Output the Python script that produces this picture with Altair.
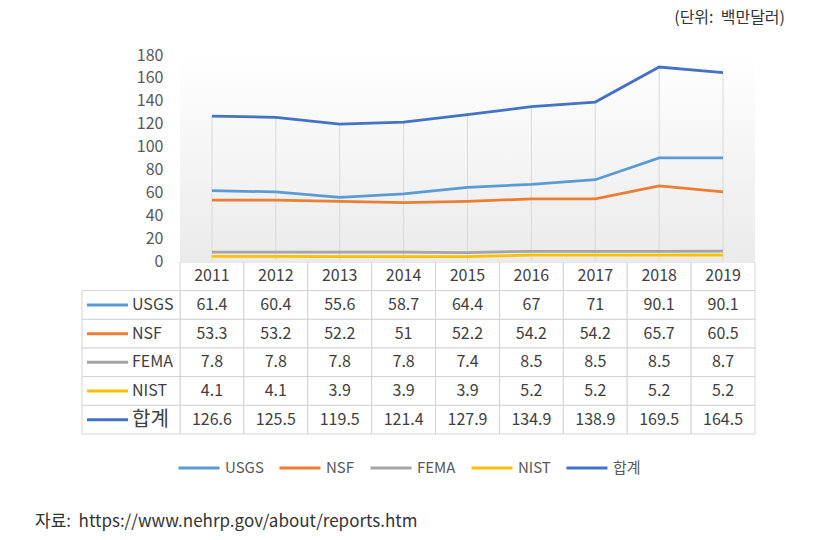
import altair as alt
import pandas as pd

# ---------------- data ----------------
years = ['2011', '2012', '2013', '2014', '2015', '2016', '2017', '2018', '2019']
series_names = ['USGS', 'NSF', 'FEMA', 'NIST', '합계']
usgs = [61.4, 60.4, 55.6, 58.7, 64.4, 67, 71, 90.1, 90.1]
nsf = [53.3, 53.2, 52.2, 51, 52.2, 54.2, 54.2, 65.7, 60.5]
fema = [7.8, 7.8, 7.8, 7.8, 7.4, 8.5, 8.5, 8.5, 8.7]
nist = [4.1, 4.1, 3.9, 3.9, 3.9, 5.2, 5.2, 5.2, 5.2]
total = [126.6, 125.5, 119.5, 121.4, 127.9, 134.9, 138.9, 169.5, 164.5]
y_ticks = [0, 20, 40, 60, 80, 100, 120, 140, 160, 180]
header_key = '연도'
unit_text = '(단위:\u00a0\u00a0백만달러)'
source_text = '자료:\u00a0\u00a0https://www.nehrp.gov/about/reports.htm'

# ---------------- style ----------------
FONT = 'Noto Sans CJK KR'
colors = ['#5B9BD5', '#ED7D31', '#A5A5A5', '#FFC000', '#4472C4']
TEXT = '#404040'
GRID = '#d9d9d9'
W, H = 575, 379
PLOT_H = 206

values = [usgs, nsf, fema, nist, total]
rows = []
for name, vals in zip(series_names, values):
    for yr, v in zip(years, vals):
        rows.append({'series': name, 'year': yr, 'value': v, 'label': '{:g}'.format(v)})
df_long = pd.DataFrame(rows)
df_total = df_long[df_long.series == '합계']

table_rows = [{'row': header_key, 'year': yr, 'label': yr} for yr in years]
table_rows += [{'row': r['series'], 'year': r['year'], 'label': r['label']} for r in rows]
df_table = pd.DataFrame(table_rows)
df_labels = pd.DataFrame({'row': series_names})

x_scale = alt.Scale(type='band', domain=years, paddingInner=0, paddingOuter=0)
y_scale = alt.Scale(domain=[y_ticks[0], y_ticks[-1]], range=[PLOT_H, 0], nice=False)
row_scale = alt.Scale(type='band', domain=[header_key] + series_names,
                      range=[PLOT_H + 1, H], paddingInner=0, paddingOuter=0)
color_scale = alt.Scale(domain=series_names, range=colors)

y_axis = alt.Axis(values=y_ticks, title=None, domain=False, ticks=False, grid=False,
                  labelFont=FONT, labelFontSize=16, labelColor='#595959', labelPadding=17)

gradient = alt.Gradient(gradient='linear',
                        stops=[alt.GradientStop(color='#ffffff', offset=0),
                               alt.GradientStop(color='#ebebeb', offset=1)],
                        x1=0, x2=0, y1=0, y2=1)

bg = alt.Chart(pd.DataFrame({'top': [y_ticks[-1]], 'bottom': [y_ticks[0]]})).mark_rect(
    color=gradient).encode(
    x=alt.value(0), x2=alt.value('width'),
    y=alt.Y('top:Q', scale=y_scale, axis=y_axis), y2='bottom:Q')

drops = alt.Chart(df_total).mark_rule(color=GRID, strokeWidth=1).encode(
    x=alt.X('year:N', scale=x_scale, axis=None, bandPosition=0.5),
    y=alt.Y('value:Q', scale=y_scale, axis=y_axis), y2=alt.datum(0))

lines = alt.Chart(df_long).mark_line(strokeWidth=2.75).encode(
    x=alt.X('year:N', scale=x_scale, axis=None, bandPosition=0.5),
    y=alt.Y('value:Q', scale=y_scale, axis=y_axis),
    color=alt.Color('series:N', scale=color_scale,
                    legend=alt.Legend(orient='none', legendX=-3, legendY=391,
                                      direction='horizontal', title=None,
                                      symbolType='stroke', symbolStrokeWidth=3,
                                      symbolSize=1681, labelFont=FONT, labelFontSize=15,
                                      labelColor='#595959', columnPadding=9,
                                      labelOffset=4)))

plot = alt.layer(bg, drops, lines)

cells = alt.Chart(df_table).mark_rect(fill='white', stroke='#d4d4d4', strokeWidth=1).encode(
    x=alt.X('year:N', scale=x_scale, axis=None),
    y=alt.Y('row:N', scale=row_scale, axis=None))

cell_text = alt.Chart(df_table).mark_text(font=FONT, fontSize=16, color=TEXT).encode(
    x=alt.X('year:N', scale=x_scale, axis=None, bandPosition=0.5),
    y=alt.Y('row:N', scale=row_scale, axis=None, bandPosition=0.5),
    text='label:N')

label_cells = alt.Chart(df_labels).mark_rect(fill='white', stroke='#d4d4d4', strokeWidth=1).encode(
    x=alt.value(-98), x2=alt.value(0),
    y=alt.Y('row:N', scale=row_scale, axis=None))

label_lines = alt.Chart(df_labels).mark_rule(strokeWidth=3).encode(
    x=alt.value(-93), x2=alt.value(-52),
    y=alt.Y('row:N', scale=row_scale, axis=None, bandPosition=0.5),
    color=alt.Color('row:N', scale=color_scale, legend=None))

label_text = alt.Chart(df_labels).mark_text(font=FONT, align='left', color=TEXT).encode(
    x=alt.value(-48),
    y=alt.Y('row:N', scale=row_scale, axis=None, bandPosition=0.5),
    text='row:N',
    size=alt.condition(alt.datum.row == '합계', alt.value(20), alt.value(16)))

table = alt.layer(cells, cell_text, label_cells, label_lines, label_text)

src = alt.Chart(pd.DataFrame({'t': [source_text]})).mark_text(
    font=FONT, fontSize=17, color='#333333', align='left', baseline='middle').encode(
    x=alt.value(-145), y=alt.value(467), text='t:N')

unit = alt.Chart(pd.DataFrame({'t': [unit_text]})).mark_text(
    font=FONT, fontSize=16, color='#333333', align='right', baseline='middle').encode(
    x=alt.value(605), y=alt.value(-37), text='t:N')

chart = alt.layer(plot, table, src, unit).resolve_scale(
    y='independent', color='independent').properties(
    width=W, height=H,
    padding={'left': 172, 'top': 47, 'right': 40, 'bottom': 98},
    autosize=alt.AutoSizeParams(type='none'),
    background='white',
).configure_view(stroke=None)

chart.save('out.html', embed_options={'renderer': 'svg', 'actions': False})
